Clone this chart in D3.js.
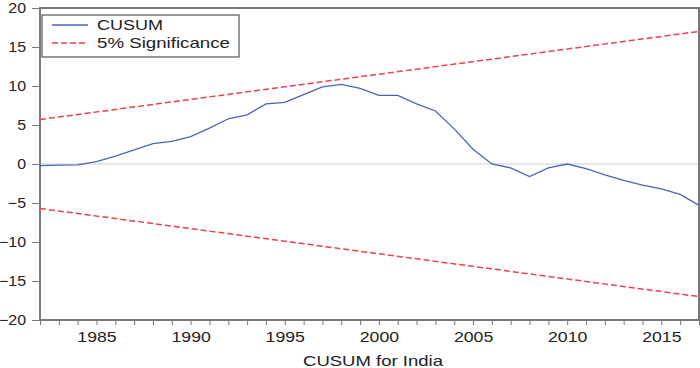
<!DOCTYPE html>
<html>
<head>
<meta charset="utf-8">
<script src="https://cdn.jsdelivr.net/npm/d3@7"></script>
<style>
  body { margin: 0; background: #fff; }
  text { font-family: "Liberation Sans", Arial, sans-serif; fill: #222; }
</style>
</head>
<body>
<div id="chart"></div>
<script>
// CUSUM values by year
const years = d3.range(1982, 2018);
const cusum = [
  -0.2, -0.15, -0.1, 0.3, 1.0, 1.8, 2.6, 2.9, 3.5, 4.6,
  5.8, 6.3, 7.7, 7.9, 8.9, 9.9, 10.2, 9.7, 8.8, 8.8,
  7.7, 6.8, 4.5, 1.9, 0.0, -0.5, -1.6, -0.5, 0.0, -0.6,
  -1.4, -2.1, -2.7, -3.2, -3.9, -5.3
];
// 5% significance bounds (straight lines, endpoints)
const boundYears = [1982, 2017];
const upperBound = [5.7, 17.0];
const lowerBound = [-5.7, -17.0];
const yTicks = [-20, -15, -10, -5, 0, 5, 10, 15, 20];
const xTicks = [1985, 1990, 1995, 2000, 2005, 2010, 2015];

const width = 700, height = 368;
const mLeft = 40, mRight = 699, mTop = 8, mBottom = 320;
const stretch = 1.22; // text in the original is horizontally stretched
const yStretch = 1.1;

const svg = d3.select('#chart').append('svg')
  .attr('width', width).attr('height', height);

const x = d3.scaleLinear().domain([1982, 2017]).range([mLeft, mRight]);
const y = d3.scaleLinear().domain([-20, 20]).range([mBottom, mTop]);

// zero line
svg.append('line')
  .attr('x1', mLeft).attr('x2', mRight)
  .attr('y1', y(0)).attr('y2', y(0))
  .attr('stroke', '#cfcfcf').attr('stroke-width', 1);

// Y axis
svg.append('g')
  .attr('transform', `translate(${mLeft},0)`)
  .call(d3.axisLeft(y).tickValues(yTicks).tickSize(8))
  .call((g) => g.select('.domain').remove())
  .call((g) => g.selectAll('.tick line').attr('stroke', '#777').attr('stroke-width', 1))
  .call((g) =>
    g.selectAll('.tick text')
      .attr('font-size', 14.5)
      .attr('fill', '#222')
      .attr('x', -14 / yStretch)
      .attr('transform', `scale(${yStretch},1)`)
  );

// X axis: minor ticks every year, labels every 5
svg.append('g')
  .attr('transform', `translate(0,${mBottom})`)
  .call(d3.axisBottom(x).tickValues(years).tickSize(5).tickFormat(''))
  .call((g) => g.select('.domain').remove())
  .call((g) => g.selectAll('.tick line').attr('stroke', '#777'));

svg.append('g')
  .attr('transform', `translate(0,${mBottom})`)
  .call(d3.axisBottom(x).tickValues(xTicks).tickSize(0).tickPadding(12).tickFormat(d3.format('d')))
  .call((g) => g.select('.domain').remove())
  .call((g) =>
    g.selectAll('.tick text')
      .attr('font-size', 14.5)
      .attr('fill', '#222')
      .attr('transform', `scale(${stretch},1)`)
  );

// frame
svg.append('rect')
  .attr('x', mLeft).attr('y', mTop)
  .attr('width', mRight - mLeft).attr('height', mBottom - mTop)
  .attr('fill', 'none').attr('stroke', '#7a7a7a').attr('stroke-width', 2);

// significance lines
const bLine = d3.line().x((d) => x(d[0])).y((d) => y(d[1]));
[upperBound, lowerBound].forEach((b) => {
  svg.append('path')
    .datum(boundYears.map((yr, i) => [yr, b[i]]))
    .attr('d', bLine)
    .attr('fill', 'none')
    .attr('stroke', '#f0404a')
    .attr('stroke-width', 1.5)
    .attr('stroke-dasharray', '6,3');
});

// CUSUM line
svg.append('path')
  .datum(years.map((yr, i) => [yr, cusum[i]]))
  .attr('d', bLine)
  .attr('fill', 'none')
  .attr('stroke', '#4a64b8')
  .attr('stroke-width', 1.3);

// legend
const legend = svg.append('g');
legend.append('rect')
  .attr('x', 42).attr('y', 15).attr('width', 197).attr('height', 42)
  .attr('fill', '#fff').attr('stroke', '#555').attr('stroke-width', 1.2);
legend.append('line')
  .attr('x1', 52).attr('x2', 88).attr('y1', 25).attr('y2', 25)
  .attr('stroke', '#4a64b8').attr('stroke-width', 1.3);
legend.append('line')
  .attr('x1', 52).attr('x2', 88).attr('y1', 43).attr('y2', 43)
  .attr('stroke', '#f0404a').attr('stroke-width', 1.5).attr('stroke-dasharray', '6,3');
legend.append('text').attr('x', 97).attr('y', 30).attr('font-size', 14.5)
  .attr('textLength', 66).attr('lengthAdjust', 'spacingAndGlyphs').text('CUSUM');
legend.append('text').attr('x', 97).attr('y', 48).attr('font-size', 14.5)
  .attr('textLength', 133).attr('lengthAdjust', 'spacingAndGlyphs').text('5% Significance');

// title
svg.append('text')
  .attr('x', 303).attr('y', 366)
  .attr('font-size', 14.5)
  .attr('textLength', 140).attr('lengthAdjust', 'spacingAndGlyphs')
  .text('CUSUM for India');
</script>
</body>
</html>
